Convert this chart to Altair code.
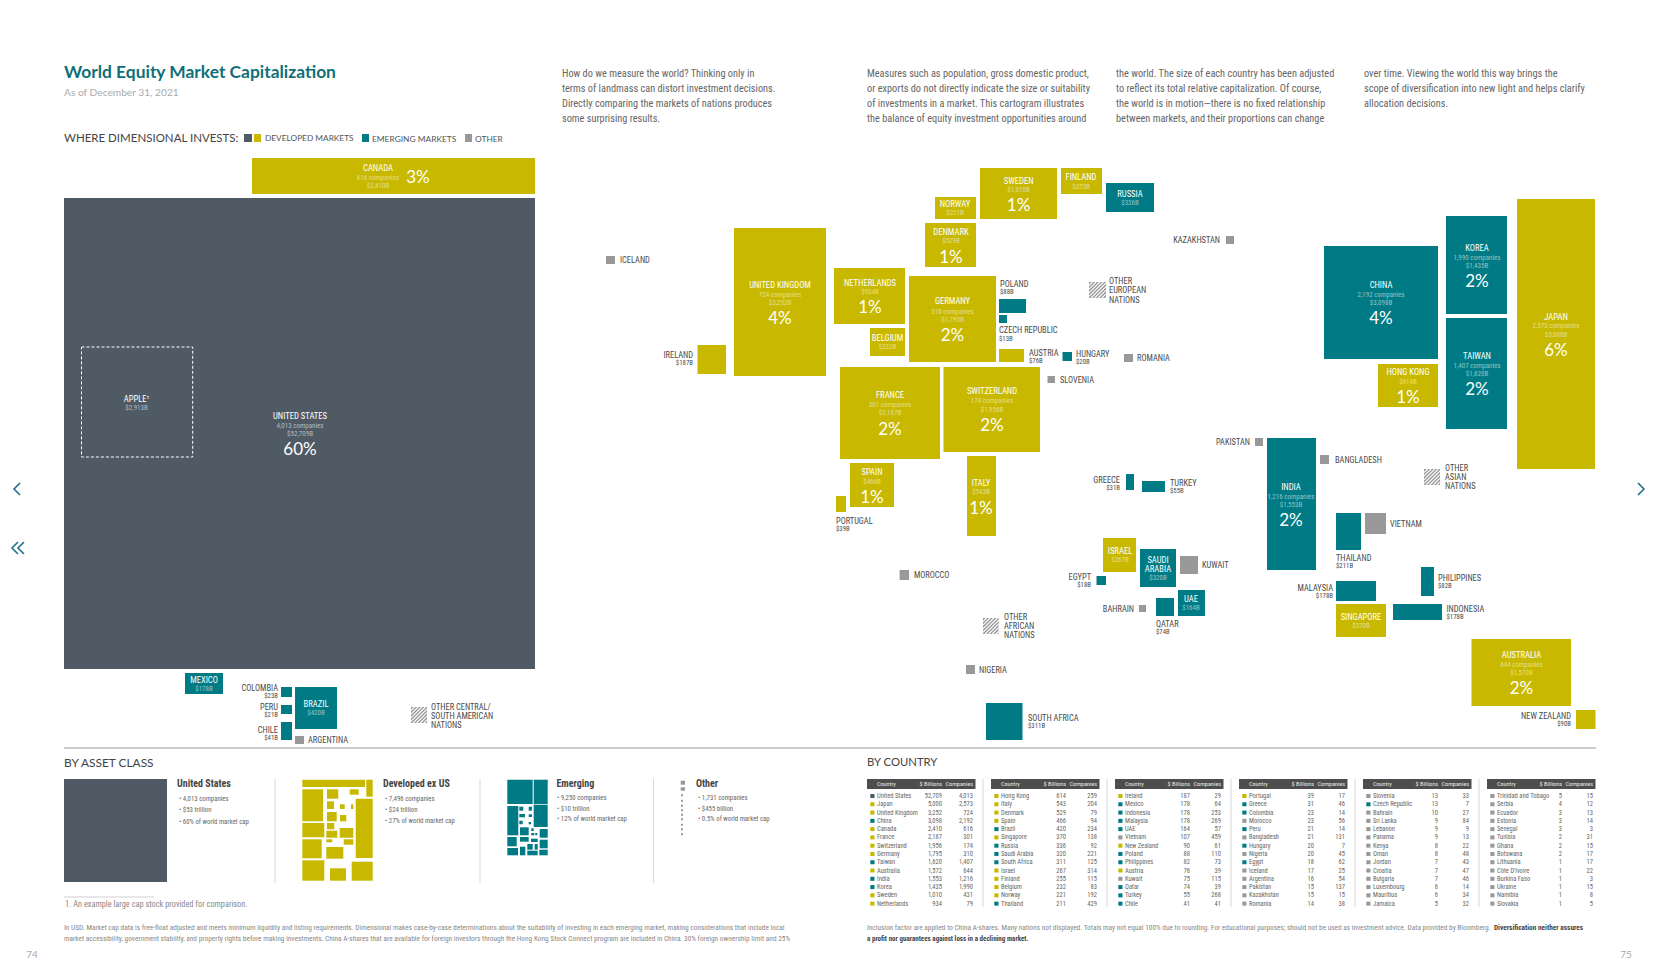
import altair as alt
import pandas as pd

NARROW = "Liberation Sans Narrow, Roboto Condensed, Arial Narrow, sans-serif"
HUMAN = "Lato, Noto Sans, sans-serif"
SLATE, YEL, TEAL, GRAY, DARK = "#4f5a65", "#c8b900", "#007b85", "#999999", "#4a4a4a"
KIND = {"s": SLATE, "d": YEL, "e": TEAL, "o": GRAY}

# Cartogram cells: kind, left, right, top, bottom (in page units)
map_cells = [
 ("d",252,535,158,194),("s",64,535,198,669),("e",185,223,673,694),("e",281,292,687,697),("e",281,292,705,714),
 ("e",281,292,722,740),("e",295,337,687,729),("o",295,304,736,744),
 ("d",980,1057,168,219),("d",1061,1102,168,194),("e",1106,1154,183,212),("d",935,976,197,219),("d",925,976,223,267),
 ("d",734,826,228,376),("d",834,905,268,324),("d",909,996,276,362),("d",870,905,328,356),("d",697.5,726,345,374),
 ("e",999,1026,299,313),("e",999,1007,315,323),("d",999,1024,349,362),("e",1062.5,1072,352,361),("d",840,940,367,459),
 ("d",943.5,1040,367,452),("d",850,894,463,507),("d",836,846,496,512),("d",967,996,456,536),("o",606,615,256,264),
 ("o",1047.5,1055,376,383),("o",1124,1133,354,362),("e",1126,1134,474,490),("d",1103,1136,538,572),
 ("o",1226,1234,236,244),("e",1324,1438,246,359),("e",1446,1507,216,314),("e",1446,1507,318,429),("d",1517,1595,199,469),
 ("d",1378,1438,364,407),("o",1255,1263,438,446),("e",1267,1316,438,570),("o",1320,1329,455,464),("e",1142,1165,481,492),
 ("e",1336,1361,513,550),("o",1365,1386,513,534),("e",1140,1176,549,587),("o",1180,1198,556,574),("e",1421,1434,567,596),
 ("e",1096.5,1106,576,585),("e",1178,1205,590,616),("e",1156,1174,598,616),("o",1139,1146,605,612),("e",1336,1376,581,601),
 ("d",1336,1386,604,637),("e",1393,1442,604,620),("d",1471.5,1571,639,706),("d",1576,1595.5,710,729),("e",986,1022.5,703,740),
 ("o",966,975,665,674),("o",899.6,909,570,580),
]
# Legend swatches and By Asset Class miniatures
legend_cells = [("s",244,252,134,142),("d",254,261,134,142),("e",362,369,134,142),("o",465,472,134,142),("s",64,167,779,882)]
developed_cells = [
 (302.3,365,779.7,787),(366.3,372.7,779.7,796.7),(302.3,323,789.3,821.3),(302.3,324.3,823,837.3),(302.3,321.7,839.3,858.3),
 (302.3,324.3,860.3,880.7),(327,338.3,789.3,798.7),(349.7,358.7,789.3,794.7),(327,334,801.3,809),(340,344.7,804.3,809),
 (351,353.3,804.3,809),(327,336.7,812,821.3),(340,346.3,815,821.3),(327,334.3,823,829.3),(355.7,372.7,798.7,858),
 (326.3,337.3,830.7,837.7),(339.7,353.3,828,837.7),(326.3,332.3,839.3,842.3),(343.7,353.3,839.3,844.7),(326.3,343.3,847,858.7),
 (330,346,868.3,880.7),(351.7,372.7,861.7,880.7),
]
emerging_cells = [
 (507.3,532.7,779.7,804),(533.7,547.7,779.7,804),(507.3,518.3,806,835.3),(519.3,523.3,806.7,810.7),(528.7,532,806.7,810.7),
 (533.7,547.7,804.7,827),(519.3,525,814,817.3),(528.7,532,814.3,817),(519.3,522.7,820.7,824.3),(528.7,531,822,824.3),
 (520,528.7,827.3,835.3),(531.3,533.7,828.3,831),(531.3,534.3,833,835.3),(535.3,537.3,833,835.3),(539.7,547.7,829,837.7),
 (507.3,516.7,837,846.3),(520,528.7,837,841.7),(531,537.7,838.7,842),(539.7,547.7,839.7,848.3),(527.3,532.7,844,849.7),
 (534.7,537.7,844,849.7),(520,525.3,846.7,855.3),(507.3,518,848,855.3),(527.3,537.7,850.7,855.3),(539.3,547.7,849.7,855.3),
]
other_cells = [(680.7,685,780.7,784.7),(680.7,685,787.3,790.7)] + [(681,683,y-1,y+1) for y in (795.3,800.7,805.7,810.3,814.7,819.3,824.7,829.3,834.3)]
hatch_cells = [(411,427,707,723),(1089,1106,282,298),(1424,1440,469,485),(983,998.5,618,634)]

# Labels on cells
in_names = [("CANADA",378,168),("UNITED KINGDOM",780,285),("NETHERLANDS",870,283),("GERMANY",952.5,301),("BELGIUM",887.5,338),
 ("SWEDEN",1018.6,181),("FINLAND",1081,177),("NORWAY",955,204),("DENMARK",951,232),("RUSSIA",1130,194),("FRANCE",890,395),
 ("SWITZERLAND",992,391),("SPAIN",872,472),("ITALY",981,483),("ISRAEL",1120,551),("SINGAPORE",1361,617),("SAUDI",1158,560),
 ("ARABIA",1158,569),("UAE",1191,599),("AUSTRALIA",1521.5,655),("INDIA",1291,487),("CHINA",1381,285),("KOREA",1477,248),
 ("TAIWAN",1477,356),("JAPAN",1556,317),("HONG KONG",1408,372),("MEXICO",204,680),("BRAZIL",316,704),("UNITED STATES",300,416),("APPLE¹",136.6,399)]
in_values = [("616 companies",378,178,"d"),("$2,410B",378,186,"d"),("724 companies",780,295,"d"),("$3,252B",780,303,"d"),("$934B",870,292,"d"),
 ("310 companies",952.5,312,"d"),("$1,795B",952.5,320,"d"),("$232B",887.5,347,"d"),("$1,010B",1018.6,190,"d"),("$255B",1081,187,"d"),
 ("$221B",955,213,"d"),("$529B",951,241,"d"),("$336B",1130,203,"e"),("301 companies",890,405,"d"),("$2,187B",890,413,"d"),
 ("174 companies",992,401,"d"),("$1,956B",992,410,"d"),("$466B",872,482,"d"),("$543B",981,492,"d"),("$267B",1120,560,"d"),
 ("$370B",1361,626,"d"),("$320B",1158,578,"e"),("$164B",1191,608,"e"),("644 companies",1521.5,665,"d"),("$1,572B",1521.5,673,"d"),
 ("1,216 companies",1291,497,"e"),("$1,553B",1291,505,"e"),("2,192 companies",1381,295,"e"),("$3,098B",1381,303,"e"),
 ("1,990 companies",1477,258,"e"),("$1,435B",1477,266,"e"),("1,407 companies",1477,366,"e"),("$1,620B",1477,374,"e"),
 ("2,573 companies",1556,326,"d"),("$5,000B",1556,335,"d"),("$614B",1408,382,"d"),("$178B",204,689,"e"),("$420B",316,713,"e"),
 ("4,013 companies",300,426,"s"),("$52,709B",300,434,"s"),("$2,913B",136.6,408,"s")]
in_pcts = [("3%",418,177),("60%",300,449),("4%",780,318),("1%",870,307),("2%",952.5,335),("1%",1018.6,205),("1%",951,257),("2%",890,429),
 ("2%",992,425),("1%",872,497),("1%",981,508),("2%",1521.5,688),("2%",1291,520),("4%",1381,318),("2%",1477,281),("2%",1477,389),("6%",1556,350),("1%",1408,397)]
# Labels beside cells, left or right aligned
out_left = [("ICELAND",620,260),("POLAND",1000,284),("CZECH REPUBLIC",999,330),("AUSTRIA",1029,353),("HUNGARY",1076,354),("ROMANIA",1137,358),
 ("SLOVENIA",1060,380),("OTHER",1109,281),("EUROPEAN",1109,290),("NATIONS",1109,300),("PORTUGAL",836,521),("TURKEY",1170,483),
 ("BANGLADESH",1335,460),("VIETNAM",1390,524),("THAILAND",1336,558),("OTHER",1445,468),("ASIAN",1445,477),("NATIONS",1445,486),("KUWAIT",1202,565),
 ("PHILIPPINES",1438,578),("INDONESIA",1446.5,609),("QATAR",1156,624),("MOROCCO",914,575),("OTHER",1004,617),("AFRICAN",1004,626),
 ("NATIONS",1004,635),("NIGERIA",979,670),("SOUTH AFRICA",1028,718),("ARGENTINA",308,740),("OTHER CENTRAL/",431,707),("SOUTH AMERICAN",431,716),("NATIONS",431,725)]
out_left_values = [("$88B",1000,292),("$13B",999,339),("$76B",1029,361),("$20B",1076,362),("$39B",836,529),("$55B",1170,491),("$211B",1336,566),
 ("$82B",1438,586),("$178B",1446.5,617),("$74B",1156,632),("$311B",1028,726)]
out_right = [("IRELAND",693,355),("GREECE",1120,480),("KAZAKHSTAN",1220,240),("PAKISTAN",1250,442),("MALAYSIA",1333,588),("EGYPT",1091,577),
 ("BAHRAIN",1134,609),("NEW ZEALAND",1571,716),("COLOMBIA",278,688),("PERU",278,707),("CHILE",278,730)]
out_right_values = [("$187B",693,363),("$31B",1120,488),("$178B",1333,596),("$18B",1091,585),("$90B",1571,724),("$23B",278,696),("$21B",278,715),("$41B",278,738)]

# Intro paragraph
para_cols = {562:["How do we measure the world? Thinking only in","terms of landmass can distort investment decisions.","Directly comparing the markets of nations produces","some surprising results."],
 867:["Measures such as population, gross domestic product,","or exports do not directly indicate the size or suitability","of investments in a market. This cartogram illustrates","the balance of equity investment opportunities around"],
 1116:["the world. The size of each country has been adjusted","to reflect its total relative capitalization. Of course,","the world is in motion—there is no fixed relationship","between markets, and their proportions can change"],
 1364:["over time. Viewing the world this way brings the","scope of diversification into new light and helps clarify","allocation decisions."]}

# By Asset Class text
asset_blocks = [("United States",177,179,["4,013 companies","$53 trillion","60% of world market cap"],(799,810,822)),
 ("Developed ex US",383,385,["7,496 companies","$24 trillion","27% of world market cap"],(799,810,821)),
 ("Emerging",556.4,557,["9,250 companies","$10 trillion","12% of world market cap"],(798,809,819)),
 ("Other",696,698,["1,731 companies","$455 billion","0.5% of world market cap"],(798,809,819))]

# By Country tables
table_left = [867,991,1115,1239,1363,1487]
table_names = [
 ["United States","Japan","United Kingdom","China","Canada","France","Switzerland","Germany","Taiwan","Australia","India","Korea","Sweden","Netherlands"],
 ["Hong Kong","Italy","Denmark","Spain","Brazil","Singapore","Russia","Saudi Arabia","South Africa","Israel","Finland","Belgium","Norway","Thailand"],
 ["Ireland","Mexico","Indonesia","Malaysia","UAE","Vietnam","New Zealand","Poland","Philippines","Austria","Kuwait","Qatar","Turkey","Chile"],
 ["Portugal","Greece","Colombia","Morocco","Peru","Bangladesh","Hungary","Nigeria","Egypt","Iceland","Argentina","Pakistan","Kazakhstan","Romania"],
 ["Slovenia","Czech Republic","Bahrain","Sri Lanka","Lebanon","Panama","Kenya","Oman","Jordan","Croatia","Bulgaria","Luxembourg","Mauritius","Jamaica"],
 ["Trinidad and Tobago","Serbia","Ecuador","Estonia","Senegal","Tunisia","Ghana","Botswana","Lithuania","Côte D'Ivoire","Burkina Faso","Ukraine","Namibia","Slovakia"]]
table_billions = [
 ["52,709","5,000","3,252","3,098","2,410","2,187","1,956","1,795","1,620","1,572","1,553","1,435","1,010","934"],
 ["614","543","529","466","420","370","336","320","311","267","255","232","221","211"],
 ["187","178","178","178","164","107","90","88","82","76","75","74","55","41"],
 ["39","31","23","23","21","21","20","20","18","17","16","15","15","14"],
 ["13","13","10","9","9","9","8","8","7","7","7","6","6","5"],
 ["5","4","3","3","3","2","2","2","1","1","1","1","1","1"]]
table_companies = [
 ["4,013","2,573","724","2,192","616","301","174","310","1,407","644","1,216","1,990","431","79"],
 ["259","204","79","94","234","138","92","221","125","314","115","83","192","429"],
 ["29","64","253","269","57","459","61","110","73","39","115","39","268","41"],
 ["17","46","14","56","14","131","7","45","62","25","54","137","15","38"],
 ["33","7","27","84","9","13","22","48","43","47","46","14","34","32"],
 ["15","12","13","14","3","31","15","17","17","22","3","15","8","5"]]
table_kinds = ["sddeddddedeedd","ddddedeeedddde","deeeeodeedoeee","deeoeoeoeooooo","oeoooooooooooo","oooooooooooooo"]

DISC_L = ["In USD. Market cap data is free-float adjusted and meets minimum liquidity and listing requirements. Dimensional makes case-by-case determinations about the suitability of investing in each emerging market, making considerations that include local",
 "market accessibility, government stability, and property rights before making investments. China A-shares that are available for foreign investors through the Hong Kong Stock Connect program are included in China. 30% foreign ownership limit and 25%"]
DISC_R = "Inclusion factor are applied to China A-shares. Many nations not displayed. Totals may not equal 100% due to rounding. For educational purposes; should not be used as investment advice. Data provided by Bloomberg."
DISC_B = ["Diversification neither assures","a profit nor guarantees against loss in a declining market."]

X = alt.X("x:Q", scale=alt.Scale(domain=[8,1652]), axis=None)
Y = alt.Y("y:Q", scale=alt.Scale(domain=[970,8]), axis=None)

rects = []
def r(x0,x1,y0,y1,c): rects.append(dict(x=x0,x2=x1,y=y0,y2=y1,c=c))
for k,a,b,c_,d in map_cells+legend_cells: r(a,b,c_,d,KIND[k])
for a,b,c_,d in developed_cells: r(a,b,c_,d,YEL)
for a,b,c_,d in emerging_cells: r(a,b,c_,d,TEAL)
for a,b,c_,d in other_cells: r(a,b,c_,d,GRAY)
for a,b,c_,d in hatch_cells: r(a,b,c_,d,GRAY)
for i,x0 in enumerate(table_left):
    r(x0,x0+108.5,779,789,"#4d4d4d")
    for j,k in enumerate(table_kinds[i]):
        y=796+j*8.28
        r(x0+3.3,x0+7.5,y-2,y+2,KIND[k])

rules = []
def ln(x0,y0,x1,y1,c,w): rules.append(dict(x=x0,y=y0,x2=x1,y2=y1,c=c,w=w))
ln(64,748,1596,748,"#999999",1.2)
for x in (275,480,653.5): ln(x,779,x,883,"#d8d8d8",1)
for x in (983,1107,1231,1355,1479): ln(x,779,x,907,"#d8d8d8",1)
ln(64,897,154,897,"#bbbbbb",0.7)
for a,b,c_,d in hatch_cells:
    w=b-a; h=d-c_; step=3.6
    s=step
    while s<w+h:
        p0=(a+min(s,w), c_+max(0,s-w))
        p1=(a+max(0,s-h), c_+min(s,h))
        ln(p0[0],p0[1],p1[0],p1[1],"#ffffff",1.1)
        s+=step

texts = []
def t(s,x,y,size,c,align="left",font=NARROW,weight="normal"):
    texts.append(dict(text=s,x=x,y=y+(1 if font==HUMAN else 0),s=size,c=c,align=align,font=font,weight=weight))
VALCOL={"d":"#e6dd8c","e":"#8fc4c8","s":"#b4bac0"}
for s,x,y in in_names: t(s,x,y,8.6,"#ffffff","center")
for s,x,y,k in in_values: t(s,x,y,7,VALCOL[k],"center")
for s,x,y in in_pcts: t(s,x,y-0.5,17,"#ffffff","center",HUMAN)
for s,x,y in out_left: t(s,x,y,8.4,DARK)
for s,x,y in out_left_values: t(s,x,y,6.8,DARK)
for s,x,y in out_right: t(s,x,y,8.4,DARK,"right")
for s,x,y in out_right_values: t(s,x,y,6.8,DARK,"right")
t("World Equity Market Capitalization",64,72,17.4,"#0f6f78","left",HUMAN,"bold")
t("As of December 31, 2021",64,92,10.2,"#aaaaaa","left",HUMAN)
t("WHERE DIMENSIONAL INVESTS:",64,137.5,11.5,"#444444","left",HUMAN)
t("DEVELOPED MARKETS",265,137.5,8.3,"#555555","left",HUMAN)
t("EMERGING MARKETS",372,137.5,8.4,"#555555","left",HUMAN)
t("OTHER",475,137.5,8.4,"#555555","left",HUMAN)
for x,lines in para_cols.items():
    for i,l in enumerate(lines): t(l,x,74+15*i,10.3,"#666666")
t("BY ASSET CLASS",64,761.5,11.9,"#444444","left",HUMAN)
t("BY COUNTRY",867,761.5,11.3,"#444444","left",HUMAN)
for name,x,xb,lines,ys in asset_blocks:
    t(name,x,784,10,"#444444","left",NARROW,"bold")
    for l,y in zip(lines,ys): t("• "+l,xb,y,6.8,"#666666")
t("1.   An example large cap stock provided for comparison.",65,905,8.3,"#888888")
for i,l in enumerate(DISC_L): t(l,64,928+11*i,7.35,"#888888")
t(DISC_R,867,928,7.3,"#888888")
t(DISC_B[0],1494,928,7.3,"#444444","left",NARROW,"bold")
t(DISC_B[1],867,939,7.0,"#444444","left",NARROW,"bold")
t("74",32,954,10,"#aaaaaa","center",HUMAN)
t("75",1626,954,10,"#aaaaaa","center",HUMAN)
for i,x0 in enumerate(table_left):
    t("Country",x0+10,784,6.2,"#e8e8e8")
    t("$ Billions",x0+75,784,6.2,"#e8e8e8","right")
    t("Companies",x0+106,784,6.2,"#e8e8e8","right")
    for j,(n,b,c_) in enumerate(zip(table_names[i],table_billions[i],table_companies[i])):
        y=796+j*8.28
        t(n,x0+10,y,6.5,"#666666")
        t(b,x0+75,y,6.5,"#666666","right")
        t(c_,x0+106,y,6.5,"#666666","right")

chev = []
def chevron(key,x_tip,x_back,yc,hw=6):
    for i,(x,y) in enumerate(((x_back,yc-hw),(x_tip,yc),(x_back,yc+hw))):
        chev.append(dict(k=key,i=i,x=x,y=y))
chevron("a",14,20,489); chevron("b",1644,1638,489); chevron("c",12,18,548); chevron("d",18,24,548)

base_c = alt.Color("c:N", scale=None)
layers = [
 alt.Chart(pd.DataFrame(rects)).mark_rect(strokeWidth=0).encode(x=X,x2="x2:Q",y=Y,y2="y2:Q",color=base_c),
 alt.Chart(pd.DataFrame([dict(x=81.5,x2=192.7,y=347,y2=457)])).mark_rect(fillOpacity=0,stroke="#ffffff",strokeWidth=1,strokeDash=[3,2]).encode(x=X,x2="x2:Q",y=Y,y2="y2:Q"),
 alt.Chart(pd.DataFrame(rules)).mark_rule().encode(x=X,x2="x2:Q",y=Y,y2="y2:Q",color=base_c,strokeWidth=alt.StrokeWidth("w:Q",scale=None)),
 alt.Chart(pd.DataFrame(chev)).mark_line(color="#1f6f8b",strokeWidth=1.6).encode(x=X,y=Y,detail="k:N",order="i:Q"),
]
df = pd.DataFrame(texts)
for (font,weight,align),g in df.groupby(["font","weight","align"]):
    layers.append(alt.Chart(g).mark_text(font=font,fontWeight=weight,align=align,baseline="middle").encode(
        x=X,y=Y,text="text:N",size=alt.Size("s:Q",scale=None),color=base_c))

chart = alt.layer(*layers).properties(width=1644,height=962,padding=0,background="#ffffff",
    autosize=alt.AutoSizeParams(type="none")).configure_view(stroke=None)
chart.save("out.html", embed_options={"renderer":"svg","actions":False})
